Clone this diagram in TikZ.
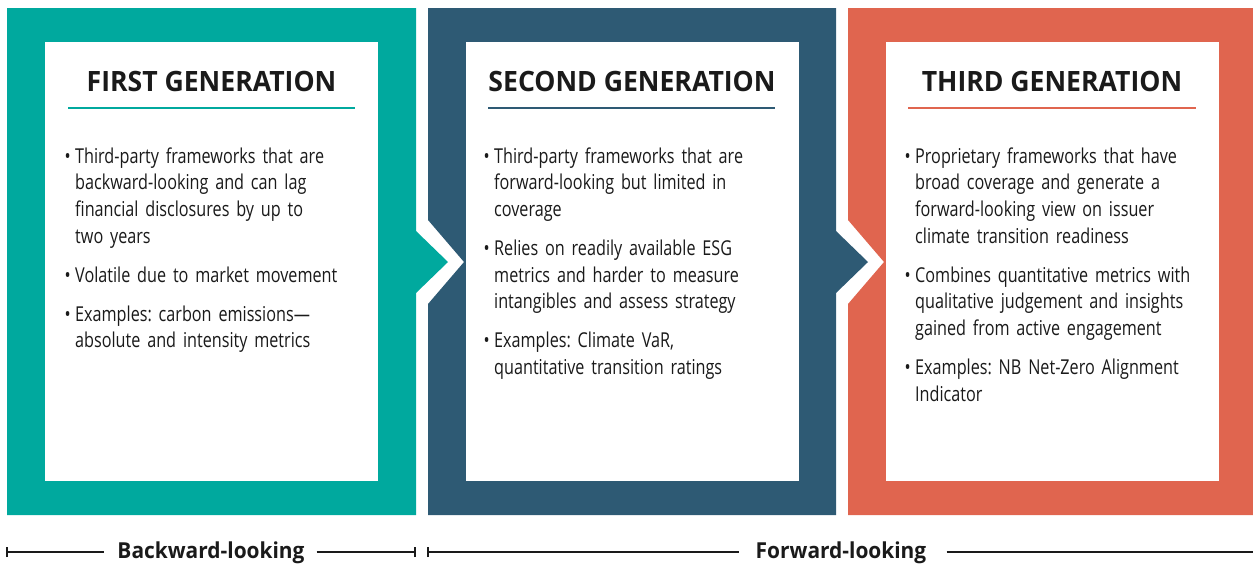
\documentclass[tikz,border=0pt]{standalone}
\usepackage{fontspec}
\setmainfont{Open Sans}[FakeStretch=0.79]
\newfontfamily\headfont{Open Sans}[FakeStretch=0.95]
\usetikzlibrary{positioning}
\definecolor{teal1}{HTML}{00A99E}
\definecolor{navy1}{HTML}{2E5A74}
\definecolor{coral1}{HTML}{E0654F}
\definecolor{ink}{HTML}{1A1A1A}
\newcommand{\bpara}[1]{\noindent\llap{\textbullet\hspace{4.5pt}}#1\par}
\tikzset{
  inner box/.style={fill=white, draw=none, minimum width=333pt, minimum height=439pt, inner sep=0pt, anchor=north west},
  head/.style={font=\headfont\bfseries\fontsize{28}{30}\selectfont, text=ink, anchor=base, inner sep=0pt},
  body/.style={font=\fontsize{20.5}{26.7}\selectfont\frenchspacing, text=ink, anchor=base west, inner sep=0pt, text width=300pt, align=left},
  rule/.style={line width=2.6pt},
  axis/.style={line width=2.4pt, ink},
  axislabel/.style={font=\headfont\bfseries\fontsize{22}{24}\selectfont, text=ink, anchor=base, inner sep=0pt}
}
\begin{document}
\begin{tikzpicture}[x=1pt,y=-1pt]
\useasboundingbox (0,0) rectangle (1253,563);
% panels
\fill[teal1] (7,8) -- (416,8) -- (416,231) -- (448,262) -- (416,293) -- (416,515) -- (7,515) -- cycle;
\fill[navy1] (428,8) -- (836,8) -- (836,231) -- (868,262) -- (836,293) -- (836,515) -- (428,515) -- (428,304) -- (464,262) -- (428,220) -- cycle;
\fill[coral1] (848,8) -- (1253,8) -- (1253,515) -- (848,515) -- (848,304) -- (884,262) -- (848,220) -- cycle;
% inner boxes
\node[inner box] (box1) at (45,42) {};
\node[inner box] (box2) at (466,42) {};
\node[inner box] (box3) at (886,42) {};
% headings
\node[head] (h1) at (211.5,91) {FIRST GENERATION};
\node[head] (h2) at (632,91) {SECOND GENERATION};
\node[head] (h3) at (1052,91) {THIRD GENERATION};
\coordinate (u1a) at (68,108); \coordinate (u1b) at (355,108);
\coordinate (u2a) at (488,108); \coordinate (u2b) at (775,108);
\coordinate (u3a) at (908,108); \coordinate (u3b) at (1196,108);
\draw[rule, teal1] (u1a) -- (u1b);
\draw[rule, navy1] (u2a) -- (u2b);
\draw[rule, coral1] (u3a) -- (u3b);
% body text
\node[body] (t1) at (75,163) {\setlength{\parskip}{12.3pt}%
\bpara{Third-party frameworks that are\\backward-looking and can lag\\financial disclosures by up to\\two years}%
\bpara{Volatile due to market movement}%
\bpara{Examples: carbon emissions---\\absolute and intensity metrics}};
\node[body] (t2) at (494,163) {\setlength{\parskip}{12.3pt}%
\bpara{Third-party frameworks that are\\forward-looking but limited in\\coverage}%
\bpara{Relies on readily available ESG\\metrics and harder to measure\\intangibles and assess strategy}%
\bpara{Examples: Climate VaR,\\quantitative transition ratings}};
\node[body] (t3) at (915,163) {\setlength{\parskip}{12.3pt}%
\bpara{Proprietary frameworks that have\\broad coverage and generate a\\forward-looking view on issuer\\climate transition readiness}%
\bpara{Combines quantitative metrics with\\qualitative judgement and insights\\gained from active engagement}%
\bpara{Examples: NB Net-Zero Alignment\\Indicator}};
% axis
\node[axislabel] (back) at (211,558) {Backward-looking};
\node[axislabel] (fwd) at (841,558) {Forward-looking};
\coordinate (a1) at (7,552); \coordinate (a2) at (415,552);
\coordinate (a3) at (428,552); \coordinate (a4) at (1253,552);
\draw[axis] (a1) -- ([xshift=-13pt]back.west |- a1);
\draw[axis] ([xshift=12pt]back.east |- a2) -- (a2);
\draw[axis] (a3) -- ([xshift=-17pt]fwd.west |- a3);
\draw[axis] ([xshift=20pt]fwd.east |- a4) -- (a4);
\draw[axis, line width=1.8pt] ([yshift=-5pt]a1) -- ([yshift=5pt]a1);
\draw[axis, line width=1.8pt] ([yshift=-5pt]a2) -- ([yshift=5pt]a2);
\draw[axis, line width=1.8pt] ([yshift=-5pt]a3) -- ([yshift=5pt]a3);
\end{tikzpicture}
\end{document}
